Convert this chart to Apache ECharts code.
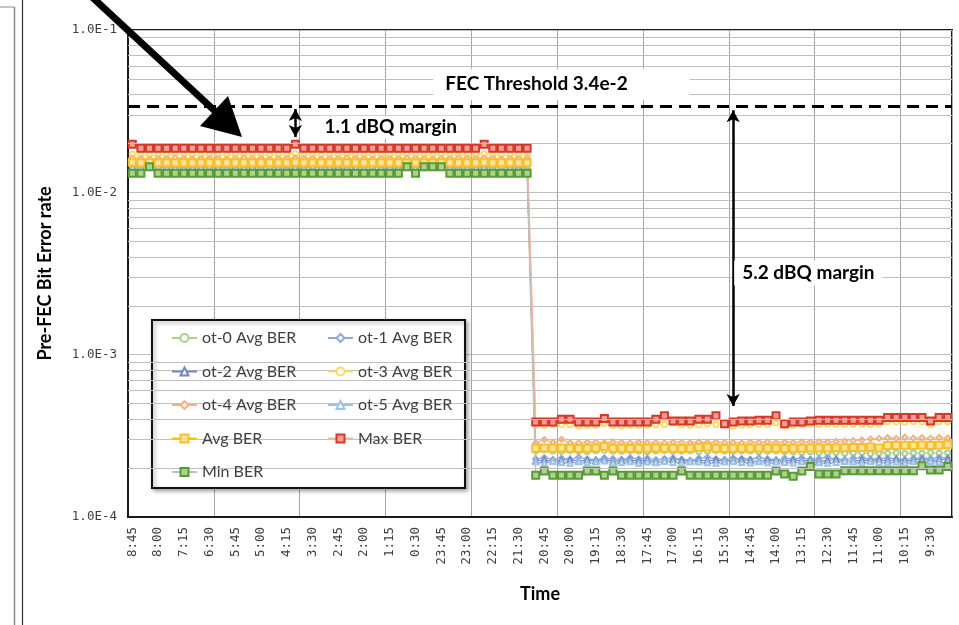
<!DOCTYPE html>
<html>
<head>
<meta charset="utf-8">
<script src="https://cdn.jsdelivr.net/npm/echarts@6/dist/echarts.min.js"></script>
<style>
html,body{margin:0;padding:0;background:#fff;}
#chart{width:959px;height:625px;}
</style>
</head>
<body>
<div id="chart"></div>
<script>
// ---------------- DATA ----------------
const timeLabels = [
'8:45','8:30','8:15','8:00','7:45','7:30','7:15','7:00','6:45','6:30','6:15','6:00',
'5:45','5:30','5:15','5:00','4:45','4:30','4:15','4:00','3:45','3:30','3:15','3:00',
'2:45','2:30','2:15','2:00','1:45','1:30','1:15','1:00','0:45','0:30','0:15','0:00',
'23:45','23:30','23:15','23:00','22:45','22:30','22:15','22:00','21:45','21:30','21:15','21:00',
'20:45','20:30','20:15','20:00','19:45','19:30','19:15','19:00','18:45','18:30','18:15','18:00',
'17:45','17:30','17:15','17:00','16:45','16:30','16:15','16:00','15:45','15:30','15:15','15:00',
'14:45','14:30','14:15','14:00','13:45','13:30','13:15','13:00','12:45','12:30','12:15','12:00',
'11:45','11:30','11:15','11:00','10:45','10:30','10:15','10:00','9:45','9:30','9:15','9:00'];

const yTickValues = [1e-4, 1e-3, 1e-2, 1e-1];
const minorGridValues = [2e-4,3e-4,4e-4,5e-4,6e-4,7e-4,8e-4,9e-4,
  2e-3,3e-3,4e-3,5e-3,6e-3,7e-3,8e-3,9e-3,
  2e-2,3e-2,4e-2,5e-2,6e-2,7e-2,8e-2,9e-2];

const fecThreshold = 3.4e-2;

const ot0 = [
1.50e-2,1.51e-2,1.52e-2,1.50e-2,1.49e-2,1.50e-2,1.50e-2,1.51e-2,1.50e-2,1.49e-2,
1.50e-2,1.50e-2,1.51e-2,1.50e-2,1.50e-2,1.49e-2,1.50e-2,1.51e-2,1.50e-2,1.51e-2,
1.50e-2,1.49e-2,1.50e-2,1.50e-2,1.51e-2,1.50e-2,1.50e-2,1.49e-2,1.50e-2,1.50e-2,
1.51e-2,1.50e-2,1.52e-2,1.50e-2,1.51e-2,1.52e-2,1.51e-2,1.50e-2,1.49e-2,1.50e-2,
1.50e-2,1.51e-2,1.50e-2,1.49e-2,1.50e-2,1.50e-2,1.50e-2,
2.56e-4,2.60e-4,2.55e-4,2.54e-4,2.57e-4,2.55e-4,2.53e-4,2.56e-4,2.58e-4,2.55e-4,
2.54e-4,2.56e-4,2.55e-4,2.52e-4,2.55e-4,2.57e-4,2.54e-4,2.55e-4,2.56e-4,2.53e-4,
2.55e-4,2.57e-4,2.55e-4,2.54e-4,2.56e-4,2.55e-4,2.52e-4,2.54e-4,2.55e-4,2.53e-4,
2.52e-4,2.50e-4,2.52e-4,2.50e-4,2.48e-4,2.50e-4,2.47e-4,2.49e-4,2.50e-4,2.46e-4,
2.48e-4,2.47e-4,2.49e-4,2.46e-4,2.48e-4,2.47e-4,2.50e-4,2.47e-4,2.49e-4];

const ot1 = [
1.45e-2,1.46e-2,1.45e-2,1.44e-2,1.45e-2,1.45e-2,1.46e-2,1.45e-2,1.44e-2,1.45e-2,
1.45e-2,1.45e-2,1.46e-2,1.45e-2,1.44e-2,1.45e-2,1.45e-2,1.46e-2,1.45e-2,1.45e-2,
1.44e-2,1.45e-2,1.45e-2,1.46e-2,1.45e-2,1.45e-2,1.44e-2,1.45e-2,1.45e-2,1.46e-2,
1.45e-2,1.44e-2,1.45e-2,1.45e-2,1.46e-2,1.45e-2,1.45e-2,1.44e-2,1.45e-2,1.45e-2,
1.46e-2,1.45e-2,1.45e-2,1.44e-2,1.45e-2,1.46e-2,1.45e-2,
2.28e-4,2.32e-4,2.26e-4,2.30e-4,2.27e-4,2.33e-4,2.28e-4,2.25e-4,2.31e-4,2.29e-4,
2.26e-4,2.32e-4,2.28e-4,2.30e-4,2.25e-4,2.29e-4,2.31e-4,2.27e-4,2.24e-4,2.30e-4,
2.33e-4,2.28e-4,2.26e-4,2.31e-4,2.29e-4,2.27e-4,2.32e-4,2.28e-4,2.25e-4,2.30e-4,
2.28e-4,2.31e-4,2.27e-4,2.29e-4,2.33e-4,2.28e-4,2.26e-4,2.30e-4,2.32e-4,2.27e-4,
2.29e-4,2.31e-4,2.28e-4,2.26e-4,2.30e-4,2.32e-4,2.29e-4,2.33e-4,2.31e-4];

const ot2 = [
1.44e-2,1.43e-2,1.44e-2,1.45e-2,1.44e-2,1.44e-2,1.43e-2,1.44e-2,1.45e-2,1.44e-2,
1.44e-2,1.43e-2,1.44e-2,1.44e-2,1.45e-2,1.44e-2,1.43e-2,1.44e-2,1.44e-2,1.45e-2,
1.44e-2,1.44e-2,1.43e-2,1.44e-2,1.45e-2,1.44e-2,1.44e-2,1.43e-2,1.44e-2,1.44e-2,
1.45e-2,1.44e-2,1.46e-2,1.44e-2,1.45e-2,1.46e-2,1.45e-2,1.44e-2,1.43e-2,1.44e-2,
1.44e-2,1.45e-2,1.44e-2,1.43e-2,1.44e-2,1.44e-2,1.44e-2,
2.22e-4,2.25e-4,2.20e-4,2.23e-4,2.26e-4,2.21e-4,2.24e-4,2.22e-4,2.27e-4,2.20e-4,
2.23e-4,2.25e-4,2.21e-4,2.24e-4,2.19e-4,2.22e-4,2.26e-4,2.23e-4,2.20e-4,2.24e-4,
2.22e-4,2.25e-4,2.21e-4,2.23e-4,2.26e-4,2.22e-4,2.20e-4,2.24e-4,2.23e-4,2.21e-4,
2.25e-4,2.22e-4,2.24e-4,2.20e-4,2.23e-4,2.26e-4,2.22e-4,2.21e-4,2.24e-4,2.23e-4,
2.25e-4,2.22e-4,2.26e-4,2.21e-4,2.24e-4,2.27e-4,2.23e-4,2.25e-4,2.28e-4];

const ot3 = [
1.72e-2,1.70e-2,1.70e-2,1.69e-2,1.70e-2,1.70e-2,1.71e-2,1.70e-2,1.69e-2,1.70e-2,
1.70e-2,1.70e-2,1.71e-2,1.70e-2,1.70e-2,1.69e-2,1.70e-2,1.70e-2,1.70e-2,1.73e-2,
1.70e-2,1.70e-2,1.69e-2,1.70e-2,1.70e-2,1.71e-2,1.70e-2,1.70e-2,1.69e-2,1.70e-2,
1.70e-2,1.70e-2,1.71e-2,1.70e-2,1.70e-2,1.70e-2,1.71e-2,1.70e-2,1.69e-2,1.70e-2,
1.70e-2,1.73e-2,1.70e-2,1.70e-2,1.69e-2,1.70e-2,1.70e-2,
3.68e-4,3.66e-4,3.70e-4,3.72e-4,3.70e-4,3.65e-4,3.67e-4,3.68e-4,3.75e-4,3.66e-4,
3.64e-4,3.67e-4,3.66e-4,3.68e-4,3.70e-4,3.72e-4,3.80e-4,3.70e-4,3.68e-4,3.69e-4,
3.74e-4,3.72e-4,3.82e-4,3.62e-4,3.68e-4,3.70e-4,3.72e-4,3.71e-4,3.80e-4,3.62e-4,
3.66e-4,3.70e-4,3.72e-4,3.71e-4,3.73e-4,3.72e-4,3.70e-4,3.72e-4,3.73e-4,3.72e-4,
3.74e-4,3.86e-4,3.85e-4,3.84e-4,3.86e-4,3.85e-4,3.70e-4,3.86e-4,3.85e-4];

const ot4 = [
1.63e-2,1.62e-2,1.61e-2,1.62e-2,1.62e-2,1.63e-2,1.62e-2,1.61e-2,1.62e-2,1.62e-2,
1.62e-2,1.61e-2,1.62e-2,1.63e-2,1.62e-2,1.62e-2,1.61e-2,1.62e-2,1.62e-2,1.63e-2,
1.62e-2,1.62e-2,1.61e-2,1.62e-2,1.62e-2,1.63e-2,1.62e-2,1.62e-2,1.61e-2,1.62e-2,
1.62e-2,1.62e-2,1.63e-2,1.62e-2,1.62e-2,1.61e-2,1.62e-2,1.62e-2,1.63e-2,1.62e-2,
1.62e-2,1.63e-2,1.62e-2,1.61e-2,1.62e-2,1.62e-2,1.62e-2,
2.86e-4,3.00e-4,2.88e-4,3.01e-4,2.87e-4,2.86e-4,2.89e-4,2.88e-4,2.87e-4,2.90e-4,
2.88e-4,2.86e-4,2.89e-4,2.87e-4,2.88e-4,2.86e-4,2.89e-4,2.88e-4,2.87e-4,2.90e-4,
2.88e-4,2.89e-4,2.87e-4,2.88e-4,2.86e-4,2.89e-4,2.88e-4,2.90e-4,2.87e-4,2.89e-4,
2.88e-4,2.90e-4,2.89e-4,2.91e-4,2.90e-4,2.92e-4,2.93e-4,2.95e-4,2.98e-4,3.02e-4,
3.05e-4,3.08e-4,3.04e-4,3.10e-4,3.06e-4,3.08e-4,3.05e-4,3.09e-4,3.07e-4];

const ot5 = [
1.42e-2,1.41e-2,1.42e-2,1.43e-2,1.42e-2,1.42e-2,1.41e-2,1.42e-2,1.42e-2,1.43e-2,
1.42e-2,1.42e-2,1.41e-2,1.42e-2,1.42e-2,1.42e-2,1.43e-2,1.42e-2,1.41e-2,1.42e-2,
1.42e-2,1.43e-2,1.42e-2,1.42e-2,1.41e-2,1.42e-2,1.42e-2,1.42e-2,1.43e-2,1.42e-2,
1.42e-2,1.41e-2,1.43e-2,1.42e-2,1.43e-2,1.44e-2,1.43e-2,1.42e-2,1.41e-2,1.42e-2,
1.42e-2,1.42e-2,1.42e-2,1.43e-2,1.42e-2,1.41e-2,1.42e-2,
2.18e-4,2.15e-4,2.20e-4,2.17e-4,2.14e-4,2.19e-4,2.16e-4,2.18e-4,2.21e-4,2.15e-4,
2.17e-4,2.19e-4,2.14e-4,2.18e-4,2.16e-4,2.20e-4,2.17e-4,2.15e-4,2.19e-4,2.18e-4,
2.16e-4,2.14e-4,2.18e-4,2.20e-4,2.17e-4,2.15e-4,2.19e-4,2.16e-4,2.18e-4,2.17e-4,
2.15e-4,2.19e-4,2.18e-4,2.16e-4,2.14e-4,2.17e-4,2.20e-4,2.18e-4,2.15e-4,2.19e-4,
2.17e-4,2.16e-4,2.18e-4,2.15e-4,2.19e-4,2.17e-4,2.20e-4,2.18e-4,2.16e-4];

const avgBER = [
1.53e-2,1.52e-2,1.52e-2,1.52e-2,1.52e-2,1.52e-2,1.52e-2,1.52e-2,1.52e-2,1.52e-2,
1.52e-2,1.52e-2,1.52e-2,1.52e-2,1.52e-2,1.52e-2,1.52e-2,1.52e-2,1.52e-2,1.53e-2,
1.52e-2,1.52e-2,1.52e-2,1.52e-2,1.52e-2,1.52e-2,1.52e-2,1.52e-2,1.52e-2,1.52e-2,
1.52e-2,1.52e-2,1.52e-2,1.52e-2,1.52e-2,1.52e-2,1.52e-2,1.52e-2,1.52e-2,1.52e-2,
1.52e-2,1.53e-2,1.52e-2,1.52e-2,1.52e-2,1.52e-2,1.52e-2,
2.65e-4,2.66e-4,2.65e-4,2.66e-4,2.65e-4,2.64e-4,2.65e-4,2.66e-4,2.72e-4,2.65e-4,
2.65e-4,2.64e-4,2.65e-4,2.65e-4,2.66e-4,2.65e-4,2.65e-4,2.64e-4,2.65e-4,2.68e-4,
2.70e-4,2.65e-4,2.64e-4,2.65e-4,2.65e-4,2.65e-4,2.66e-4,2.65e-4,2.65e-4,2.64e-4,
2.65e-4,2.65e-4,2.66e-4,2.66e-4,2.66e-4,2.67e-4,2.67e-4,2.68e-4,2.68e-4,2.70e-4,
2.66e-4,2.76e-4,2.76e-4,2.77e-4,2.76e-4,2.78e-4,2.76e-4,2.77e-4,2.80e-4];

const maxBER = [
1.98e-2,1.87e-2,1.87e-2,1.87e-2,1.87e-2,1.87e-2,1.87e-2,1.87e-2,1.87e-2,1.87e-2,
1.87e-2,1.87e-2,1.87e-2,1.87e-2,1.87e-2,1.87e-2,1.87e-2,1.87e-2,1.87e-2,1.98e-2,
1.87e-2,1.87e-2,1.87e-2,1.87e-2,1.87e-2,1.87e-2,1.87e-2,1.87e-2,1.87e-2,1.87e-2,
1.87e-2,1.87e-2,1.87e-2,1.87e-2,1.87e-2,1.87e-2,1.87e-2,1.87e-2,1.87e-2,1.87e-2,
1.87e-2,1.98e-2,1.87e-2,1.87e-2,1.87e-2,1.87e-2,1.87e-2,
3.85e-4,3.85e-4,3.85e-4,4.00e-4,4.00e-4,3.85e-4,3.85e-4,3.85e-4,4.05e-4,3.85e-4,
3.85e-4,3.85e-4,3.85e-4,3.85e-4,4.00e-4,4.20e-4,3.90e-4,3.90e-4,3.90e-4,4.00e-4,
4.00e-4,4.20e-4,3.75e-4,3.85e-4,3.90e-4,3.90e-4,3.95e-4,3.95e-4,4.20e-4,3.75e-4,
3.85e-4,3.85e-4,3.90e-4,3.95e-4,3.95e-4,3.95e-4,3.95e-4,3.95e-4,3.95e-4,3.95e-4,
3.95e-4,4.10e-4,4.10e-4,4.10e-4,4.10e-4,4.10e-4,3.90e-4,4.10e-4,4.10e-4];

const minBER = [
1.31e-2,1.31e-2,1.44e-2,1.31e-2,1.31e-2,1.31e-2,1.31e-2,1.31e-2,1.31e-2,1.31e-2,
1.31e-2,1.31e-2,1.31e-2,1.31e-2,1.31e-2,1.31e-2,1.31e-2,1.31e-2,1.31e-2,1.31e-2,
1.31e-2,1.31e-2,1.31e-2,1.31e-2,1.31e-2,1.31e-2,1.31e-2,1.31e-2,1.31e-2,1.31e-2,
1.31e-2,1.31e-2,1.44e-2,1.31e-2,1.44e-2,1.44e-2,1.44e-2,1.31e-2,1.31e-2,1.31e-2,
1.31e-2,1.31e-2,1.31e-2,1.31e-2,1.31e-2,1.31e-2,1.31e-2,
1.81e-4,1.92e-4,1.81e-4,1.81e-4,1.81e-4,1.81e-4,1.92e-4,1.92e-4,1.81e-4,1.92e-4,
1.81e-4,1.81e-4,1.81e-4,1.81e-4,1.81e-4,1.81e-4,1.81e-4,1.92e-4,1.81e-4,1.81e-4,
1.81e-4,1.81e-4,1.81e-4,1.81e-4,1.81e-4,1.81e-4,1.81e-4,1.81e-4,1.92e-4,1.84e-4,
1.78e-4,1.92e-4,2.05e-4,1.84e-4,1.84e-4,1.84e-4,1.93e-4,1.93e-4,1.93e-4,1.93e-4,
1.93e-4,1.93e-4,1.93e-4,1.93e-4,1.93e-4,2.07e-4,1.95e-4,1.95e-4,2.05e-4];

// margin arrows: [category index, top value, bottom value]
const marginArrows = [[19, 3.26e-2, 2.19e-2], [70, 3.2e-2, 4.82e-4]];

// ---------------- CHART ----------------
const UI = 'Lato, "Noto Sans", sans-serif';
const MONO = '"DejaVu Sans Mono", "Liberation Mono", monospace';

function otSeries(name, data, color, symbol) {
  return {
    name, type: 'line', data, z: 2,
    symbol, symbolSize: 5, showAllSymbol: true,
    lineStyle: { color, width: 1.2 },
    itemStyle: { color, borderWidth: 1 },
    animation: false
  };
}
function sqSeries(name, data, lineColor, fill, border) {
  return {
    name, type: 'line', data, z: 3,
    symbol: 'rect', symbolSize: 7, showAllSymbol: true,
    lineStyle: { color: lineColor, width: 1.5 },
    itemStyle: { color: fill, borderColor: border, borderWidth: 2 },
    animation: false
  };
}

const chart = echarts.init(document.getElementById('chart'), null, { renderer: 'canvas' });

const legendText = { fontFamily: UI, fontSize: 16, color: '#404040' };

chart.setOption({
  animation: false,
  backgroundColor: '#fff',
  grid: { left: 128, right: 7, top: 30, bottom: 108, show: true, borderColor: '#1a1a1a', borderWidth: 2, backgroundColor: 'transparent' },
  xAxis: {
    type: 'category', data: timeLabels, boundaryGap: true,
    axisLine: { lineStyle: { color: '#1a1a1a', width: 2 } },
    axisTick: { show: false },
    axisLabel: { interval: 2, rotate: 90, fontFamily: MONO, fontSize: 12.5, color: '#404040', margin: 10 },
    splitLine: { show: true, interval: 9, lineStyle: { color: '#A6A6A6', width: 1 } },
    name: 'Time', nameLocation: 'middle', nameGap: 68,
    nameTextStyle: { fontFamily: UI, fontWeight: 'bold', fontSize: 18, color: '#000' }
  },
  yAxis: {
    type: 'log', logBase: 10, min: yTickValues[0], max: yTickValues[yTickValues.length - 1],
    axisLine: { show: true, lineStyle: { color: '#1a1a1a', width: 2 } },
    axisTick: { show: false },
    axisLabel: { fontFamily: MONO, fontSize: 12.5, color: '#404040', margin: 11,
      formatter: v => Number(v).toExponential(1).toUpperCase() },
    splitLine: { show: true, lineStyle: { color: '#C0C0C0', width: 1 } },
    name: 'Pre-FEC Bit Error rate', nameLocation: 'middle', nameGap: 74, nameRotate: 90,
    nameTextStyle: { fontFamily: UI, fontWeight: 'bold', fontSize: 18, color: '#000' }
  },
  legend: [
    { data: ['ot-0 Avg BER', 'ot-2 Avg BER', 'ot-4 Avg BER', 'Avg BER', 'Min BER'],
      orient: 'vertical', left: 171, top: 330, itemWidth: 25, itemHeight: 10, itemGap: 17.5,
      textStyle: legendText, z: 10, selectedMode: false, padding: 0 },
    { data: ['ot-1 Avg BER', 'ot-3 Avg BER', 'ot-5 Avg BER', 'Max BER'],
      orient: 'vertical', left: 327, top: 330, itemWidth: 25, itemHeight: 10, itemGap: 17.5,
      textStyle: legendText, z: 10, selectedMode: false, padding: 0 }
  ],
  graphic: [
    { type: 'rect', z: 5, shape: { x: 152, y: 320, width: 313, height: 168 },
      style: { fill: '#fff', stroke: '#111', lineWidth: 2, shadowBlur: 4, shadowOffsetX: 2, shadowOffsetY: 2, shadowColor: 'rgba(0,0,0,0.35)' } },
    // left framing lines of the page
    { type: 'line', z: 5, shape: { x1: 14.5, y1: 7, x2: 14.5, y2: 625 }, style: { stroke: '#8a8a8a', lineWidth: 1.5 } },
    { type: 'line', z: 5, shape: { x1: 0, y1: 7, x2: 14.5, y2: 7 }, style: { stroke: '#8a8a8a', lineWidth: 1 } },
    { type: 'line', z: 5, shape: { x1: 22.5, y1: 0, x2: 22.5, y2: 625 }, style: { stroke: '#333', lineWidth: 1.2 } },
    // pointer arrow
    { type: 'line', z: 20, shape: { x1: 92, y1: -3, x2: 216, y2: 112 }, style: { stroke: '#000', lineWidth: 7 } },
    { type: 'polygon', z: 20, shape: { points: [[242, 137], [200, 126], [228, 96]] }, style: { fill: '#000' } }
  ],
  series: [
    { name: 'minor grid', type: 'line', data: [], z: 1, silent: true, animation: false,
      markLine: { silent: true, symbol: ['none', 'none'], precision: 10, animation: false, label: { show: false },
        lineStyle: { color: '#C0C0C0', type: 'solid', width: 1 },
        emphasis: { disabled: true },
        data: minorGridValues.map(v => ({ yAxis: v })) } },
    otSeries('ot-0 Avg BER', ot0, '#A9D18E', 'emptyCircle'),
    otSeries('ot-1 Avg BER', ot1, '#8FAADC', 'emptyDiamond'),
    otSeries('ot-2 Avg BER', ot2, '#7088BE', 'emptyTriangle'),
    otSeries('ot-3 Avg BER', ot3, '#FFD966', 'emptyCircle'),
    otSeries('ot-4 Avg BER', ot4, '#F4B183', 'emptyDiamond'),
    otSeries('ot-5 Avg BER', ot5, '#9DC3E6', 'emptyTriangle'),
    sqSeries('Avg BER', avgBER, '#FFC000', '#FFE49A', '#F8C02E'),
    sqSeries('Max BER', maxBER, '#F4B6A6', '#F2A096', '#D23A2A'),
    sqSeries('Min BER', minBER, '#BFBFBF', '#A8D58A', '#5A9A36'),
    { name: 'threshold', type: 'line', data: [], z: 6, silent: true, animation: false,
      markLine: {
        silent: true, animation: false, symbol: ['none', 'none'], precision: 10,
        label: { show: false }, emphasis: { disabled: true },
        lineStyle: { color: '#000', width: 3, type: [12, 7] },
        data: [{ yAxis: fecThreshold }]
      },
      markPoint: {
        silent: true, animation: false, symbol: 'rect', symbolSize: 1,
        itemStyle: { color: 'rgba(0,0,0,0)' },
        label: { show: true, position: 'inside', color: '#000', fontFamily: UI, fontWeight: 'bold', fontSize: 19 },
        data: [
          { coord: [50, 4.64e-2], label: { formatter: 'FEC Threshold 3.4e-2', backgroundColor: '#fff', padding: [9, 62, 3, 12] } },
          { coord: [30, 2.52e-2], label: { formatter: '1.1 dBQ margin', backgroundColor: '#fff', padding: [2, 4], offset: [1, 0] } },
          { coord: [79, 3.18e-3], label: { formatter: '5.2 dBQ margin', backgroundColor: '#fff', padding: [3, 8], offset: [-2, 0] } }
        ]
      } },
    { name: 'margins', type: 'line', data: [], z: 6, silent: true, animation: false,
      markLine: {
        silent: true, animation: false, symbol: ['arrow', 'arrow'], symbolSize: [10, 12], precision: 10,
        label: { show: false }, emphasis: { disabled: true },
        lineStyle: { color: '#000', width: 2.5, type: 'solid' },
        data: marginArrows.map(a => [{ coord: [a[0], a[1]] }, { coord: [a[0], a[2]] }])
      } }
  ]
});
</script>
</body>
</html>
